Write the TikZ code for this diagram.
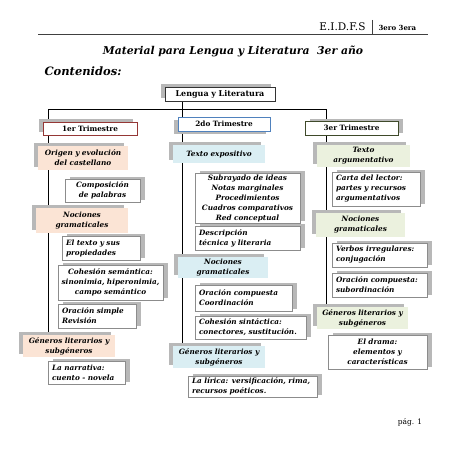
\documentclass[tikz,border=0pt]{standalone}
\usepackage{fontspec}
\setmainfont{DejaVu Serif}
\usetikzlibrary{shadows}
\definecolor{peach}{HTML}{FBE4D5}
\definecolor{lblue}{HTML}{DAEEF3}
\definecolor{lgreen}{HTML}{EBF1DE}
\definecolor{maroon}{HTML}{953735}
\definecolor{steel}{HTML}{4F81BD}
\definecolor{olive}{HTML}{3F4A2A}
\definecolor{shd}{HTML}{B8B8B8}
\definecolor{bgray}{HTML}{8C8C8C}
\tikzset{
  shul/.style={drop shadow={shadow xshift=-4pt,shadow yshift=3pt,fill=shd,opacity=1}},
  shdl/.style={drop shadow={shadow xshift=-4pt,shadow yshift=-3pt,fill=shd,opacity=1}},
  shur/.style={drop shadow={shadow xshift=5pt,shadow yshift=2pt,fill=shd,opacity=1}},
  boxfont/.style={font=\fontsize{7.3}{10}\selectfont\bfseries\itshape},
  lvone/.style={draw, line width=0.8pt, fill=white, inner sep=0pt, align=center,
    font=\fontsize{7.3}{10}\selectfont\bfseries},
  lvtwo/.style={fill=#1, inner sep=0pt, align=center, boxfont, shul},
  lvthree/.style={draw=bgray, line width=0.6pt, fill=white, inner sep=0pt, boxfont, shur},
  sz/.style n args={3}{minimum width=#1pt, minimum height=#2pt, text width=#3pt},
  conn/.style={line width=0.9pt, black}
}
\begin{document}
\begin{tikzpicture}[x=1pt,y=-1pt]
\fill[white] (0,0) rectangle (452,452);
\useasboundingbox (0,0) rectangle (452,452);
% header
\coordinate (hl1) at (38,34);
\coordinate (hl2) at (428,34);
\coordinate (hs1) at (372,20);
\coordinate (hs2) at (372,34);
\draw[line width=0.8pt, black!75] (hl1) -- (hl2);
\draw[line width=0.6pt, black!75] (hs1) -- (hs2);
\node[anchor=east, font=\fontsize{10.5}{12}\selectfont] (hd1) at (369,27) {E.I.D.F.S};
\node[anchor=west, font=\fontsize{7}{9}\selectfont\bfseries] (hd2) at (375,27.5) {3ero 3era};
\node[font=\fontsize{10.8}{13}\selectfont\bfseries\itshape] (title) at (233,51) {Material para Lengua y Literatura\ \ 3er año};
\node[anchor=west, font=\fontsize{11.5}{13}\selectfont\bfseries\itshape] (cont) at (41,71) {Contenidos:};
\node[font=\fontsize{7.5}{9}\selectfont] (pag) at (410,422) {pág. 1};
% connectors
\coordinate (h0) at (182,109);
\coordinate (h1) at (48,109);
\coordinate (h3) at (326,109);
\coordinate (e1) at (48,332);
\coordinate (e2) at (182,345);
\coordinate (e3) at (326,305);
\coordinate (top) at (182,101);
\draw[conn] (top) -- (h0);
\draw[conn] (h1) -- (h3);
\draw[conn] (h1) -- (e1);
\draw[conn] (h0) -- (e2);
\draw[conn] (h3) -- (e3);
% top
\node[lvone, draw=black!80, shul, sz={110}{14}{106}, font=\fontsize{8}{10}\selectfont\bfseries] (n0) at (220,94) {Lengua y Literatura};
\node[lvone, draw=maroon, shul, sz={94}{13}{90}] (t1) at (90,128.5) {1er Trimestre};
\node[lvone, draw=steel, shdl, sz={92}{14}{88}] (t2) at (224,124) {2do Trimestre};
\node[lvone, draw=olive, shur, sz={93}{14}{89}] (t3) at (351.5,128) {3er Trimestre};
% column 1
\node[lvtwo=peach, sz={90}{24}{86}] (a1) at (83,158) {Origen y evolución\\del castellano};
\node[lvthree, align=center, sz={75}{23}{69}] (a11) at (102.5,190.5) {Composición\\de palabras};
\node[lvtwo=peach, sz={92}{25}{88}] (a2) at (82,220.5) {Nociones\\gramaticales};
\node[lvthree, align=left, sz={78}{24}{70}] (a21) at (101,248) {El texto y sus\\propiedades};
\node[lvthree, align=center, sz={105}{35}{101}] (a22) at (110.5,282.5) {Cohesión semántica:\\sinonimia, hiperonimia,\\campo semántico};
\node[lvthree, align=left, sz={78}{24}{70}] (a23) at (97,316) {Oración simple\\Revisión};
\node[lvtwo=peach, sz={92}{22}{88}] (a3) at (69,346) {Géneros literarios y\\subgéneros};
\node[lvthree, align=left, sz={77}{23}{69}] (a31) at (86.5,372.5) {La narrativa:\\cuento - novela};
% column 2
\node[lvtwo=lblue, sz={92}{18}{88}] (b1) at (219,154) {Texto expositivo};
\node[lvthree, align=center, sz={105}{50}{101}] (b11) at (247.5,198) {Subrayado de ideas\\Notas marginales\\Procedimientos\\Cuadros comparativos\\Red conceptual};
\node[lvthree, align=left, sz={105}{24}{97}] (b12) at (247.5,238) {Descripción\\técnica y literaria};
\node[lvtwo=lblue, sz={90}{21}{86}] (b2) at (223,267.5) {Nociones\\gramaticales};
\node[lvthree, align=left, sz={97}{26}{89}] (b21) at (243.5,298) {Oración compuesta\\Coordinación};
\node[lvthree, align=left, sz={111}{23}{103}] (b22) at (250.5,327.5) {Cohesión sintáctica:\\conectores, sustitución.};
\node[lvtwo=lblue, sz={92}{22}{88}] (b3) at (219,357) {Géneros literarios y\\subgéneros};
\node[lvthree, align=left, sz={129}{21}{121}] (b31) at (252.5,386.5) {La lírica: versificación, rima,\\recursos poéticos.};
% column 3
\node[lvtwo=lgreen, sz={93}{22}{89}] (c1) at (363.5,156) {Texto\\argumentativo};
\node[lvthree, align=left, sz={88}{34}{80}] (c11) at (376,189) {Carta del lector:\\partes y recursos\\argumentativos};
\node[lvtwo=lgreen, sz={89}{24}{85}] (c2) at (360.5,225) {Nociones\\gramaticales};
\node[lvthree, align=left, sz={95}{24}{87}] (c21) at (379.5,255) {Verbos irregulares:\\conjugación};
\node[lvthree, align=left, sz={95}{24}{87}] (c22) at (379.5,285) {Oración compuesta:\\subordinación};
\node[lvtwo=lgreen, sz={91}{22}{87}] (c3) at (362.5,318) {Géneros literarios y\\subgéneros};
\node[lvthree, align=center, sz={99}{34}{93}] (c31) at (377.5,352) {El drama:\\elementos y\\características};
\end{tikzpicture}
\end{document}
